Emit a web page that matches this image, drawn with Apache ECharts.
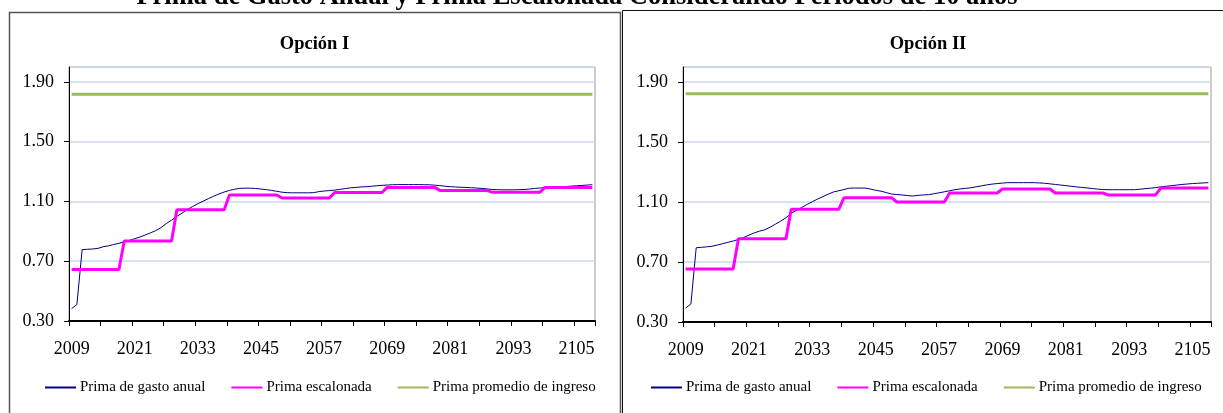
<!DOCTYPE html>
<html>
<head>
<meta charset="utf-8">
<script src="https://cdn.jsdelivr.net/npm/echarts@6/dist/echarts.min.js"></script>
<style>
html,body{margin:0;padding:0;background:#fff;}
#chart{width:1223px;height:413px;}
</style>
</head>
<body>
<div id="chart"></div>
<script>
// ---- data ----
const mainTitle = 'Prima de Gasto Anual y Prima Escalonada Considerando Periodos de 10 años';
const panelTitles = ['Opción I', 'Opción II'];
const seriesNames = ['Prima de gasto anual', 'Prima escalonada', 'Prima promedio de ingreso'];
const firstYear = 2009;
const yearCount = 100;
const years = Array.from({length: yearCount}, (_, i) => String(firstYear + i));
const yTicks = {min: 0.3, max: 2.0, interval: 0.4};

const gastoI = [
 0.383,0.410,0.778,0.780,0.782,0.786,0.797,0.803,0.812,0.820,
 0.830,0.840,0.851,0.862,0.876,0.890,0.905,0.925,0.952,0.975,
 1.000,1.022,1.047,1.066,1.085,1.102,1.119,1.135,1.150,1.163,
 1.174,1.182,1.188,1.189,1.189,1.187,1.183,1.179,1.174,1.168,
 1.162,1.159,1.158,1.158,1.158,1.158,1.159,1.166,1.170,1.173,
 1.176,1.181,1.186,1.191,1.194,1.197,1.199,1.202,1.205,1.208,
 1.210,1.212,1.213,1.213,1.213,1.213,1.213,1.212,1.212,1.209,
 1.206,1.202,1.199,1.197,1.195,1.194,1.192,1.190,1.187,1.184,
 1.180,1.179,1.178,1.178,1.178,1.179,1.180,1.183,1.187,1.190,
 1.192,1.194,1.196,1.197,1.200,1.203,1.205,1.207,1.210,1.212
];
const escalonadaI = [
 0.645,0.645,0.645,0.645,0.645,0.645,0.645,0.645,0.645,0.645,
 0.835,0.835,0.835,0.835,0.835,0.835,0.835,0.835,0.835,0.835,
 1.045,1.045,1.045,1.045,1.045,1.045,1.045,1.045,1.045,1.045,
 1.143,1.143,1.143,1.143,1.143,1.143,1.143,1.143,1.143,1.143,
 1.123,1.123,1.123,1.123,1.123,1.123,1.123,1.123,1.123,1.123,
 1.160,1.160,1.160,1.160,1.160,1.160,1.160,1.160,1.160,1.160,
 1.194,1.194,1.194,1.194,1.194,1.194,1.194,1.194,1.194,1.194,
 1.174,1.174,1.174,1.174,1.174,1.174,1.174,1.174,1.174,1.174,
 1.161,1.161,1.161,1.161,1.161,1.161,1.161,1.161,1.161,1.161,
 1.194,1.194,1.194,1.194,1.194,1.194,1.194,1.194,1.194,1.194
];
const promedioI = 1.817;

const gastoII = [
 0.393,0.420,0.795,0.798,0.801,0.805,0.813,0.822,0.831,0.840,
 0.850,0.864,0.879,0.894,0.906,0.915,0.932,0.952,0.972,0.995,
 1.025,1.044,1.064,1.084,1.102,1.120,1.136,1.152,1.167,1.175,
 1.183,1.192,1.193,1.193,1.193,1.186,1.178,1.172,1.163,1.153,
 1.150,1.147,1.143,1.140,1.144,1.147,1.149,1.155,1.161,1.168,
 1.175,1.182,1.187,1.191,1.195,1.201,1.207,1.214,1.219,1.223,
 1.226,1.229,1.229,1.229,1.229,1.229,1.229,1.227,1.225,1.221,
 1.217,1.213,1.209,1.205,1.201,1.197,1.194,1.190,1.186,1.183,
 1.182,1.182,1.182,1.182,1.182,1.182,1.185,1.189,1.192,1.196,
 1.201,1.205,1.209,1.213,1.217,1.220,1.223,1.225,1.227,1.229
];
const escalonadaII = [
 0.653,0.653,0.653,0.653,0.653,0.653,0.653,0.653,0.653,0.653,
 0.855,0.855,0.855,0.855,0.855,0.855,0.855,0.855,0.855,0.855,
 1.051,1.051,1.051,1.051,1.051,1.051,1.051,1.051,1.051,1.051,
 1.129,1.129,1.129,1.129,1.129,1.129,1.129,1.129,1.129,1.129,
 1.100,1.100,1.100,1.100,1.100,1.100,1.100,1.100,1.100,1.100,
 1.160,1.160,1.160,1.160,1.160,1.160,1.160,1.160,1.160,1.160,
 1.187,1.187,1.187,1.187,1.187,1.187,1.187,1.187,1.187,1.187,
 1.160,1.160,1.160,1.160,1.160,1.160,1.160,1.160,1.160,1.160,
 1.147,1.147,1.147,1.147,1.147,1.147,1.147,1.147,1.147,1.147,
 1.193,1.193,1.193,1.193,1.193,1.193,1.193,1.193,1.193,1.193
];
const promedioII = 1.822;

// ---- styling ----
const FONT = '"Liberation Serif", "Times New Roman", serif';
const colors = ['#000080', '#ff00ff', '#9bbb59'];
const widths = [1, 3, 3];

const grids = [
  {left: 69, top: 67, width: 526, height: 254},
  {left: 683, top: 67, width: 528, height: 255}
];
const panels = [
  {x: 9.5, y: 12.5, w: 611, h: 420, titleX: 314.5, legendLeft: 45},
  {x: 622.5, y: 10.5, w: 620, h: 420, titleX: 928, legendLeft: 651}
];

function xAxis(g) {
  return {
    type: 'category', gridIndex: g, data: years, boundaryGap: true,
    axisLine: {show: true, lineStyle: {color: '#000', width: 2}},
    axisTick: {show: true, interval: 5, length: 5, lineStyle: {color: '#000', width: 1}},
    axisLabel: {interval: 11, margin: 19, fontFamily: FONT, fontSize: 18, color: '#000'},
    splitLine: {show: false}
  };
}
function yAxis(g) {
  return {
    type: 'value', gridIndex: g, min: yTicks.min, max: yTicks.max, interval: yTicks.interval,
    axisLine: {show: true, lineStyle: {color: '#000', width: 1}},
    axisTick: {show: true, length: 5, lineStyle: {color: '#000'}},
    axisLabel: {margin: 15, fontFamily: FONT, fontSize: 18, color: '#000', showMaxLabel: false,
      formatter: v => v.toFixed(2)},
    splitLine: {show: true, lineStyle: {color: '#c9daf0', width: 1.5}}
  };
}
function lineSeries(name, idx, g, data) {
  return {
    type: 'line', name: name, xAxisIndex: g, yAxisIndex: g, data: data,
    symbol: 'none', showSymbol: false, smooth: false,
    lineStyle: {color: colors[idx], width: widths[idx]},
    itemStyle: {color: colors[idx]},
    z: 3 + idx, animation: false
  };
}
function legend(p) {
  return {
    data: seriesNames, left: p.legendLeft, top: 380, orient: 'horizontal',
    itemWidth: 31, itemHeight: 14, itemGap: 26, padding: 0,
    icon: 'path://M0,6 L31,6 L31,8 L0,8 Z',
    textStyle: {fontFamily: FONT, fontSize: 15, color: '#000', padding: [0, 0, 0, -1]},
    selectedMode: false
  };
}

const graphic = [];
panels.forEach((p, k) => {
  graphic.push({type: 'rect', shape: {x: p.x, y: p.y, width: p.w, height: p.h},
    style: {fill: 'none', stroke: k === 0 ? '#555' : '#111', lineWidth: k === 0 ? 1.5 : 1}, silent: true});
  graphic.push({type: 'text', x: p.titleX, y: 44,
    style: {text: panelTitles[k], fontFamily: FONT, fontSize: 18.5, fontWeight: 'bold', fill: '#000',
      align: 'center', verticalAlign: 'middle'}, silent: true});
});
graphic.push({type: 'text', x: 577, y: 11,
  style: {text: mainTitle, fontFamily: FONT, fontSize: 26.5, fontWeight: 'bold', fill: '#000',
    align: 'center', verticalAlign: 'bottom'}, silent: true});

const chart = echarts.init(document.getElementById('chart'), null, {renderer: 'canvas'});
chart.setOption({
  animation: false,
  backgroundColor: '#fff',
  grid: grids.map(g => Object.assign({show: true, borderColor: '#9a9a9a', borderWidth: 1, backgroundColor: 'transparent', containLabel: false}, g)),
  xAxis: [xAxis(0), xAxis(1)],
  yAxis: [yAxis(0), yAxis(1)],
  legend: [legend(panels[0]), legend(panels[1])],
  graphic: graphic,
  series: [
    lineSeries(seriesNames[0], 0, 0, gastoI),
    lineSeries(seriesNames[1], 1, 0, escalonadaI),
    lineSeries(seriesNames[2], 2, 0, new Array(yearCount).fill(promedioI)),
    lineSeries(seriesNames[0], 0, 1, gastoII),
    lineSeries(seriesNames[1], 1, 1, escalonadaII),
    lineSeries(seriesNames[2], 2, 1, new Array(yearCount).fill(promedioII))
  ]
});
</script>
</body>
</html>
